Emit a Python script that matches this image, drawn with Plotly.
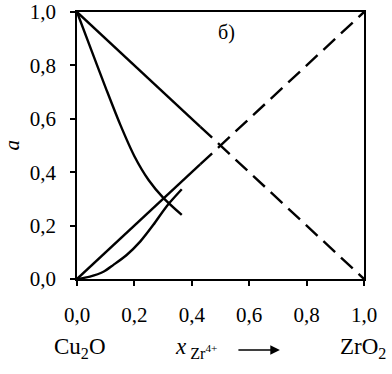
import plotly.graph_objects as go

# Descending line a = 1 - x (solid part, dashed continuation)
desc_solid_x = [0.0, 0.43]
desc_solid_y = [1.0, 0.57]
desc_dash_x = [0.43, 0.5, 1.0]
desc_dash_y = [0.57, 0.5, 0.0]

# Ascending line from origin (solid part, dashed continuation)
asc_solid_x = [0.0, 0.43]
asc_solid_y = [0.0, 0.43]
asc_dash_x = [0.43, 0.5, 1.0]
asc_dash_y = [0.43, 0.5, 1.0]

# Descending curve from (0,1)
curve_dn_x = [0.0, 0.05, 0.10, 0.15, 0.20, 0.25, 0.30, 0.365]
curve_dn_y = [1.0, 0.857, 0.716, 0.58, 0.46, 0.37, 0.305, 0.24]

# Ascending curve from origin
curve_up_x = [0.0, 0.045, 0.092, 0.127, 0.173, 0.22, 0.266, 0.312, 0.365]
curve_up_y = [0.0, 0.009, 0.027, 0.053, 0.09, 0.14, 0.203, 0.272, 0.336]

tick_vals = [0.0, 0.2, 0.4, 0.6, 0.8, 1.0]
tick_text = ["0,0", "0,2", "0,4", "0,6", "0,8", "1,0"]

FONT = "Liberation Serif, Times New Roman, serif"
LW = 2.4
DASH = "16px,8px"

fig = go.Figure()
fig.add_trace(go.Scatter(x=desc_solid_x, y=desc_solid_y, mode="lines",
                         line=dict(color="black", width=LW)))
fig.add_trace(go.Scatter(x=desc_dash_x, y=desc_dash_y, mode="lines",
                         line=dict(color="black", width=LW, dash=DASH)))
fig.add_trace(go.Scatter(x=asc_solid_x, y=asc_solid_y, mode="lines",
                         line=dict(color="black", width=LW)))
fig.add_trace(go.Scatter(x=asc_dash_x, y=asc_dash_y, mode="lines",
                         line=dict(color="black", width=LW, dash=DASH)))
fig.add_trace(go.Scatter(x=curve_dn_x, y=curve_dn_y, mode="lines",
                         line=dict(color="black", width=LW, shape="spline", smoothing=0.8)))
fig.add_trace(go.Scatter(x=curve_up_x, y=curve_up_y, mode="lines",
                         line=dict(color="black", width=LW, shape="spline", smoothing=0.8)))

axis_common = dict(
    range=[0, 1], tickvals=tick_vals, ticktext=tick_text,
    showgrid=False, zeroline=False, showline=True, mirror=True,
    linecolor="black", linewidth=1.5, ticks="outside", ticklen=5,
    tickcolor="black", tickwidth=1.5, automargin=False,
    ticklabeloverflow="allow",
    tickfont=dict(family=FONT, size=21, color="black"),
)

fig.update_layout(
    width=392, height=374,
    margin=dict(l=77, r=28, t=12, b=95),
    paper_bgcolor="white", plot_bgcolor="white",
    showlegend=False,
    xaxis=dict(**axis_common, ticklabelstandoff=11),
    yaxis=dict(**axis_common, ticklabelstandoff=10),
    font=dict(family=FONT, color="black"),
)

annots = [
    dict(text="б)", x=0.52, y=0.925, xref="x", yref="y", showarrow=False,
         xanchor="center", yanchor="middle", font=dict(size=20)),
    dict(text="<i>a</i>", x=-0.225, y=0.502, xref="paper", yref="paper", showarrow=False,
         xanchor="center", yanchor="middle", textangle=-90, font=dict(size=21)),
    dict(text="Cu<sub>2</sub>O", x=0.0105, y=-0.26, xref="paper", yref="paper",
         xanchor="center", yanchor="middle", showarrow=False, font=dict(size=23)),
    dict(text="<i>x</i><sub> Zr<sup>4+</sup></sub>", x=0.415, y=-0.26, xref="paper", yref="paper",
         xanchor="center", yanchor="middle", showarrow=False, font=dict(size=23)),
    dict(text="", x=0.707, y=-0.266, xref="paper", yref="paper",
         showarrow=True, ax=-43, ay=0, arrowhead=2, arrowsize=1.2, arrowwidth=1.6,
         arrowcolor="black"),
    dict(text="ZrO<sub>2</sub>", x=0.997, y=-0.26, xref="paper", yref="paper",
         xanchor="center", yanchor="middle", showarrow=False, font=dict(size=23)),
]
fig.update_layout(annotations=annots)

# remove the default 8px page margin so the figure sits at the window's top-left corner
fig.write_html("out.html", config={"displayModeBar": False},
               post_script="document.body.style.margin='0';")
